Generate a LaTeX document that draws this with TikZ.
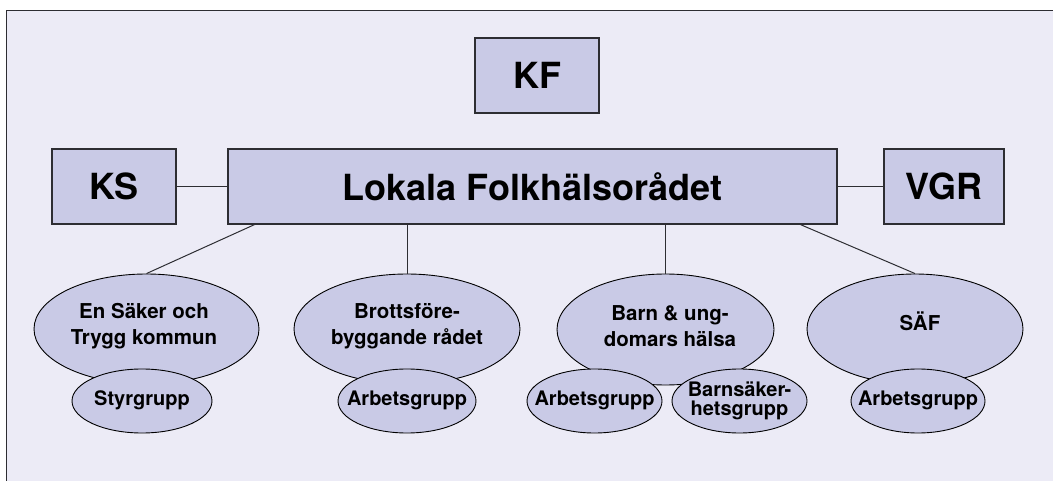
\documentclass[tikz,border=0pt]{standalone}
\usepackage{fontspec}
\setmainfont{TeX Gyre Heros}
\usetikzlibrary{shapes.geometric}
\definecolor{bgfill}{RGB}{236,235,246}
\definecolor{boxfill}{RGB}{201,202,230}
\definecolor{edge}{RGB}{45,45,50}
\begin{document}
\begin{tikzpicture}[x=1pt,y=-1pt,
  box/.style={draw=edge,line width=1.4pt,fill=boxfill,rectangle,inner sep=0pt,
    minimum height=75pt,font=\bfseries\fontsize{36}{40}\selectfont},
  bigell/.style={draw=black,line width=0.9pt,fill=boxfill,ellipse,inner sep=0pt,
    minimum height=110pt},
  bigtext/.style={align=center,inner sep=0pt,font=\bfseries\fontsize{20.5}{26}\selectfont},
  smallell/.style={draw=black,line width=0.9pt,fill=boxfill,ellipse,inner sep=0pt,
    minimum height=64pt},
  smalltext/.style={align=center,inner sep=0pt,font=\bfseries\fontsize{20}{19}\selectfont},
  conn/.style={draw=edge,line width=1pt}]
\useasboundingbox (0,0) rectangle (1053,481);
\begin{scope}
\clip (0,0) rectangle (1053,481);
\draw[draw=edge,line width=1.8pt,fill=bgfill] (6.5,10.5) rectangle (1070,500);
\end{scope}

\node[box,minimum width=124pt] (KF) at (537,75.5) {KF};
\node[box,minimum width=609pt] (L) at (532.5,186.5) {Lokala Folkhälsorådet};
\node[box,minimum width=124pt] (KS) at (114,186.5) {KS};
\node[box,minimum width=120pt] (VGR) at (944,186.5) {VGR};

\draw[conn] (KS.east) -- (L.west);
\draw[conn] (L.east) -- (VGR.west);

\node[bigell,minimum width=225pt] (E1) at (146.5,329) {};
\node[bigell,minimum width=226pt] (E2) at (407,329) {};
\node[bigell,minimum width=217pt,minimum height=111pt] (E3) at (665.5,329.5) {};
\node[bigell,minimum width=216pt] (E4) at (915,329) {};
\node[bigtext] (E1t) at (144,326) {En Säker och\\Trygg kommun};
\node[bigtext] (E2t) at (407,326) {Brottsföre-\\byggande rådet};
\node[bigtext] (E3t) at (670,326) {Barn \& ung-\\domars hälsa};
\node[bigtext] (E4t) at (920,321) {SÄF};

\draw[conn] ([xshift=27pt]L.south west) -- (E1.north);
\draw[conn] (E2.north |- L.south) -- (E2.north);
\draw[conn] (E3.north |- L.south) -- (E3.north);
\draw[conn] ([xshift=-37pt]L.south east) -- (E4.north);

\node[smallell,minimum width=140pt] (S1) at (142,401) {};
\node[smallell,minimum width=138pt] (S2) at (407,401) {};
\node[smallell,minimum width=135pt] (S3) at (594.5,401) {};
\node[smallell,minimum width=135pt] (S4) at (739.5,401) {};
\node[smallell,minimum width=134pt] (S5) at (918,401) {};
\node[smalltext] (S1t) at (142,400) {Styrgrupp};
\node[smalltext] (S2t) at (407,400) {Arbetsgrupp};
\node[smalltext] (S3t) at (594.5,400) {Arbetsgrupp};
\node[smalltext] (S4t) at (739.5,401) {Barnsäker-\\hetsgrupp};
\node[smalltext] (S5t) at (918,400) {Arbetsgrupp};
\end{tikzpicture}
\end{document}
